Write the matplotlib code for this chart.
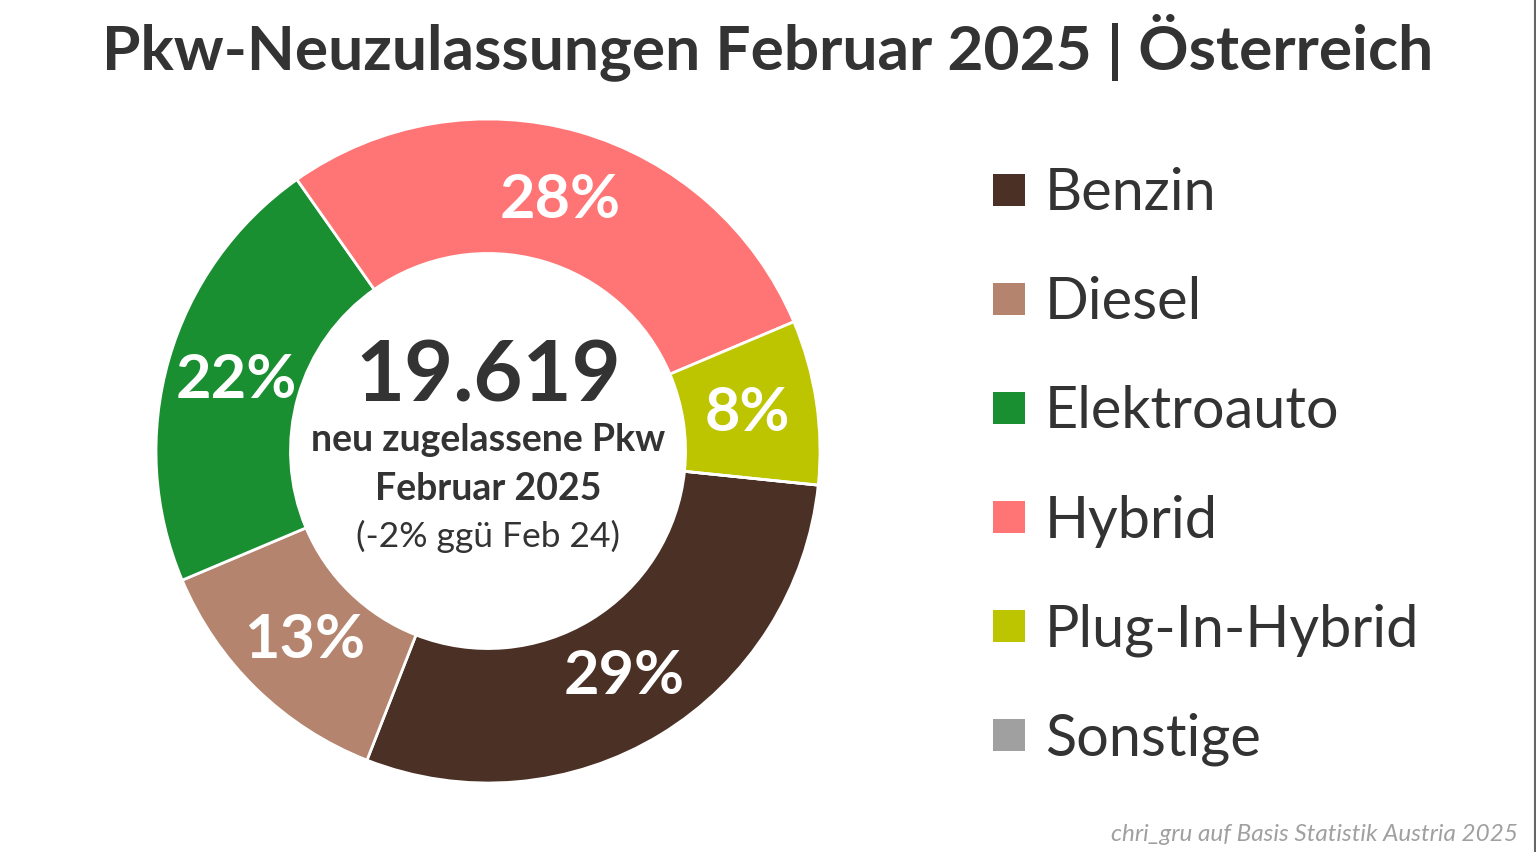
import matplotlib
matplotlib.use('Agg')
import matplotlib.pyplot as plt
from matplotlib.patches import Rectangle
from matplotlib.lines import Line2D

plt.rcParams['font.family'] = ['Lato', 'DejaVu Sans']

# data
categories = ['Benzin', 'Diesel', 'Elektroauto', 'Hybrid', 'Plug-In-Hybrid', 'Sonstige']
shares = [29.3, 12.7, 21.6, 28.4, 8.0, 0.0]
colors = ['#4b3026', '#b5846e', '#1a8f32', '#ff7575', '#bdc400', '#a0a0a0']
title = 'Pkw-Neuzulassungen Februar 2025 | Österreich'
total = '19.619'
center_lines = ['neu zugelassene Pkw', 'Februar 2025', '(-2% ggü Feb 24)']
source = 'chri_gru auf Basis Statistik Austria 2025'

W, H = 1536, 853
fig = plt.figure(figsize=(W / 100, H / 100), dpi=100)
fig.patch.set_facecolor('white')

# donut, center at (488, 452) px, outer radius 332 px
cx, cy, r = 488, 452, 332
ax = fig.add_axes([(cx - r) / W, (H - cy - r) / H, 2 * r / W, 2 * r / H])
wedges, texts, autotexts = ax.pie(
    shares, colors=colors, startangle=-5.9, counterclock=False,
    autopct=lambda p: f'{p:.0f}%' if p >= 1 else '',
    pctdistance=0.79,
    wedgeprops=dict(width=0.405, edgecolor='white', linewidth=2),
    textprops=dict(color='white', fontsize=44, fontweight='bold'))
ax.set_xlim(-1, 1)
ax.set_ylim(-1, 1)
ax.set_aspect('equal')
ax.axis('off')

# center text
dark = '#333333'
ax.text(0, 0.225, total, ha='center', va='center', fontsize=61,
        fontweight='bold', color=dark)
ax.text(0, 0.035, center_lines[0], ha='center', va='center', fontsize=27,
        fontweight='bold', color=dark)
ax.text(0, -0.11, center_lines[1], ha='center', va='center', fontsize=27,
        fontweight='bold', color=dark)
ax.text(0, -0.255, center_lines[2], ha='center', va='center', fontsize=25.5,
        color=dark)

fig.text(768 / W, 1 - 47 / H, title, ha='center', va='center', fontsize=44.8,
         fontweight='bold', color=dark)

# legend
y0, step = 191, 109
for i, (cat, col) in enumerate(zip(categories, colors)):
    y = y0 + i * step
    fig.patches.append(Rectangle((993 / W, 1 - (y + 16) / H), 32 / W, 32 / H,
                                 transform=fig.transFigure, facecolor=col,
                                 edgecolor='none'))
    fig.text(1045 / W, 1 - (y - 2) / H, cat, ha='left', va='center_baseline',
             fontsize=41.5, color=dark)

fig.text(1518 / W, 1 - 835 / H, source, ha='right', va='center', fontsize=17.5,
         style='italic', color='#a0a0a0')

# thin frame line at the right edge
fig.add_artist(Line2D([1534.5 / W, 1534.5 / W], [0, 1], transform=fig.transFigure,
                      color='#666666', linewidth=1.5))

fig.savefig('out.png', dpi=100, facecolor='white')
